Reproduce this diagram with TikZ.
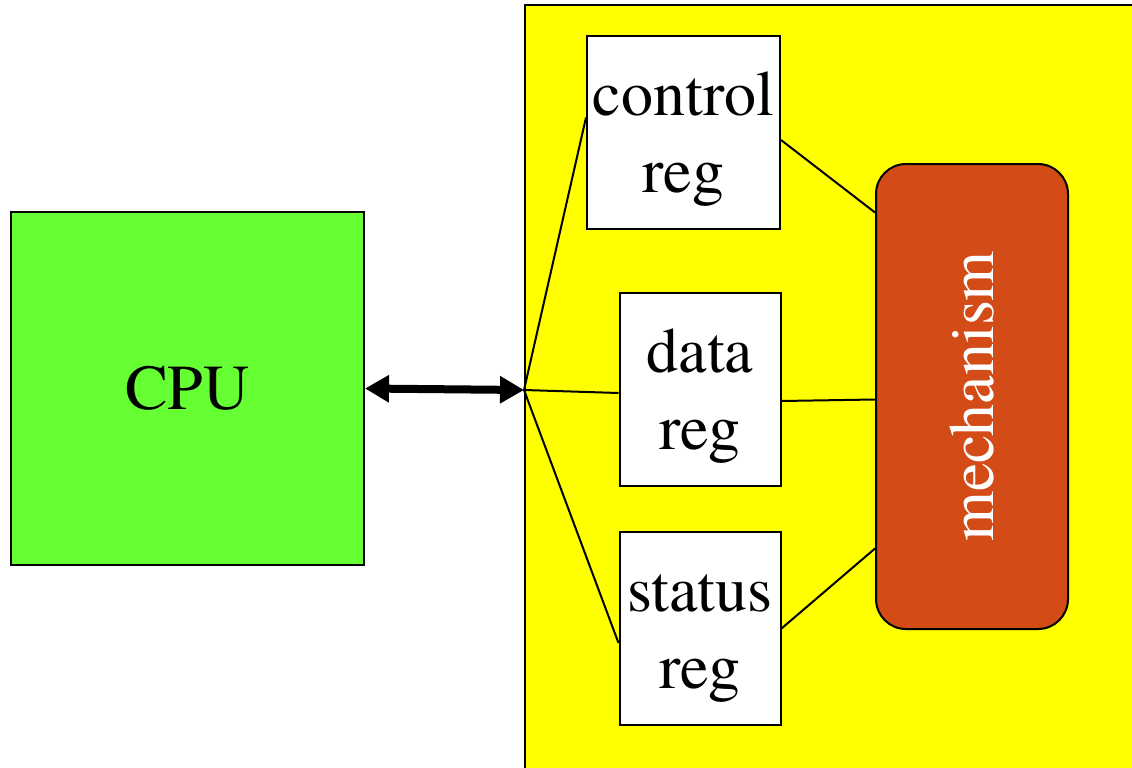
\documentclass[tikz,border=0pt]{standalone}
\usepackage{fontspec}
\setmainfont{texgyretermes}[Extension=.otf, UprightFont=*-regular, BoldFont=*-bold, ItalicFont=*-italic, BoldItalicFont=*-bolditalic]
\usepackage{tikz}
\usetikzlibrary{arrows.meta,positioning}

\definecolor{cpugreen}{HTML}{66FF33}
\definecolor{devyellow}{HTML}{FFFF00}
\definecolor{mechorange}{HTML}{D34B17}

\begin{document}
\begin{tikzpicture}[x=1pt, y=-1pt,
        every node/.style = {font=\rmfamily\fontsize{64}{77}\selectfont, align=center, inner sep=0pt},
        unit/.style = {draw, line width=2pt, minimum width=#1},
        reg/.style = {unit=161pt, fill=white, minimum height=193pt, text height=134pt, text depth=14pt},
        wire/.style = {draw, line width=2pt}]
    \clip (0,0) rectangle (1132,768);
    \useasboundingbox (0,0) rectangle (1132,768);
    \node [unit=353pt, fill=cpugreen, minimum height=353pt] (cpu) at (187.5,388.5) {CPU};
    \node [draw, line width=2pt, fill=devyellow, minimum width=630pt, minimum height=790pt, anchor=north west] (dev) at (524,4.5) {};
    \coordinate (hub) at (524,390);
    \node [reg, unit=193pt] (ctrl) at (683.5,132.5) {control\\reg};
    \node [reg] (data) at (700,389) {data\\reg};
    \node [reg] (stat) at (700,628.5) {status\\reg};
    \node [draw, line width=2pt, fill=mechorange, rounded corners=30pt, minimum width=192pt, minimum height=465pt, text=white] (mech) at (972,396.5) {\rotatebox{90}{mechanism}};

    \draw [{Triangle[length=24pt,width=26pt]}-{Triangle[length=24pt,width=26pt]}, line width=8pt] (cpu.east) -- (hub);

    \path
        (hub) edge [wire] ([yshift=15pt]ctrl.west)
              edge [wire] ([yshift=-4pt]data.west)
              edge [wire] ([yshift=-14.5pt]stat.west)
        ([yshift=-7.5pt]ctrl.east) edge [wire] ([yshift=184pt]mech.west)
        ([yshift=-12pt]data.east) edge [wire] ([yshift=-3pt]mech.west)
        (stat.east) edge [wire] ([yshift=-152pt]mech.west);
\end{tikzpicture}
\end{document}
